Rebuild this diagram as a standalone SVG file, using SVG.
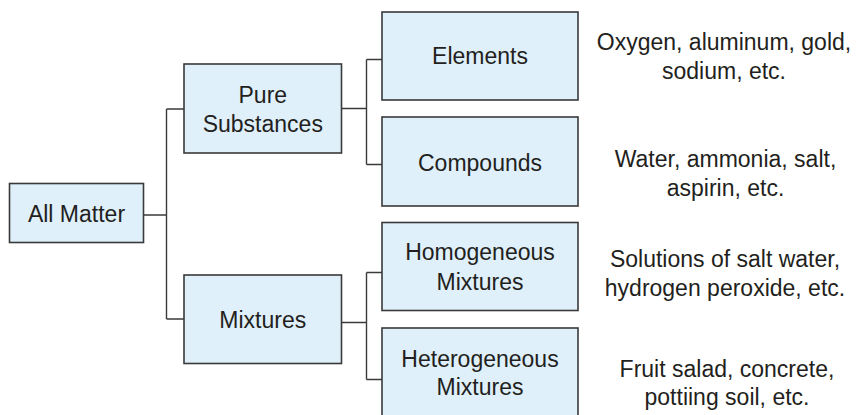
<svg xmlns="http://www.w3.org/2000/svg" width="859" height="415" viewBox="0 0 859 415">
<style>
.box{fill:#dff0fa;stroke:#3a3a3a;stroke-width:1.6}
.t{font-family:"Liberation Sans",Arial,sans-serif;font-size:23px;fill:#231f20;text-anchor:middle}
.c{fill:none;stroke:#3a3a3a;stroke-width:1.4}
</style>
<rect width="859" height="415" fill="#ffffff"/>
<g id="connectors">
<path class="c" d="M143.5,215H166.5M166.5,109V319M166.5,109H184M166.5,319H184"/>
<path class="c" d="M341.5,108.5H366.5M366.5,59.5V164.5M366.5,59.5H382M366.5,164.5H382"/>
<path class="c" d="M341.5,322.5H366.5M366.5,272.5V379.5M366.5,272.5H382M366.5,379.5H382"/>
</g>
<g id="all-matter"><rect class="box" x="9.5" y="183.5" width="134" height="59"/><text class="t" x="76.5" y="222">All Matter</text></g>
<g id="pure-substances"><rect class="box" x="184" y="64" width="157.5" height="89"/><text class="t" x="262.8" y="102.7">Pure</text><text class="t" x="262.8" y="131.7">Substances</text></g>
<g id="mixtures"><rect class="box" x="184" y="275" width="157.5" height="88.5"/><text class="t" x="262.8" y="328.3">Mixtures</text></g>
<g id="elements"><rect class="box" x="382" y="12" width="196" height="88"/><text class="t" x="480" y="64.3">Elements</text></g>
<g id="compounds"><rect class="box" x="382" y="117" width="196" height="89"/><text class="t" x="480" y="170.7">Compounds</text></g>
<g id="homogeneous"><rect class="box" x="382" y="222.5" width="196" height="88"/><text class="t" x="480" y="260">Homogeneous</text><text class="t" x="480" y="290">Mixtures</text></g>
<g id="heterogeneous"><rect class="box" x="382" y="328" width="196" height="100"/><text class="t" x="480" y="366.7">Heterogeneous</text><text class="t" x="480" y="395">Mixtures</text></g>
<g id="examples-elements"><text class="t" x="724" y="49.5">Oxygen, aluminum, gold,</text><text class="t" x="724" y="79">sodium, etc.</text></g>
<g id="examples-compounds"><text class="t" x="725.5" y="167.3">Water, ammonia, salt,</text><text class="t" x="725.5" y="196">aspirin, etc.</text></g>
<g id="examples-homogeneous"><text class="t" x="725" y="267.3">Solutions of salt water,</text><text class="t" x="725" y="296">hydrogen peroxide, etc.</text></g>
<g id="examples-heterogeneous"><text class="t" x="727" y="376.7">Fruit salad, concrete,</text><text class="t" x="727" y="405.3">pottiing soil, etc.</text></g>
</svg>
